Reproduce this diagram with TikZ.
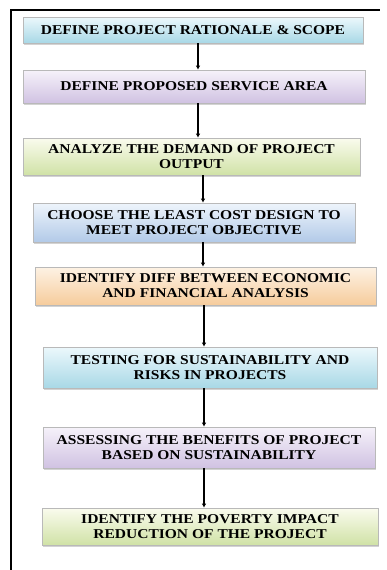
\documentclass[tikz,border=0pt]{standalone}
\usepackage{fontspec}
\setmainfont[FakeStretch=1.15]{Liberation Serif}
\usetikzlibrary{shadows,arrows.meta}
\definecolor{cyantop}{RGB}{236,248,252}
\definecolor{cyanbot}{RGB}{168,216,230}
\definecolor{lilactop}{RGB}{246,242,250}
\definecolor{lilacbot}{RGB}{208,194,226}
\definecolor{greentop}{RGB}{250,251,238}
\definecolor{greenbot}{RGB}{208,226,166}
\definecolor{bluetop}{RGB}{238,244,251}
\definecolor{bluebot}{RGB}{178,202,232}
\definecolor{orangetop}{RGB}{253,242,228}
\definecolor{orangebot}{RGB}{246,204,156}
\begin{document}
\begin{tikzpicture}
[
    x=1pt, y=-1pt,
    stagebox/.style={draw=gray!55, line width=0.6pt, align=center, inner sep=0pt,
        font=\fontsize{13.5}{15}\selectfont\bfseries,
        drop shadow={shadow xshift=1pt, shadow yshift=-2pt, opacity=0.35}},
    cyanbox/.style={stagebox, top color=cyantop, bottom color=cyanbot},
    lilacbox/.style={stagebox, top color=lilactop, bottom color=lilacbot},
    greenbox/.style={stagebox, top color=greentop, bottom color=greenbot},
    bluebox/.style={stagebox, top color=bluetop, bottom color=bluebot},
    orangebox/.style={stagebox, top color=orangetop, bottom color=orangebot},
    flow/.style={line width=1.2pt, -{Latex[length=4pt, width=4.5pt]}},
]
\useasboundingbox (0,0) rectangle (386,570);
\draw[line width=2pt] (11,570) -- (11,10) -- (380,10);
\node (rationale) [cyanbox, minimum width=340pt, minimum height=26pt] at (193,30)
    {DEFINE PROJECT RATIONALE \& SCOPE};
\node (area) [lilacbox, minimum width=342pt, minimum height=33pt] at (194,86.5)
    {DEFINE PROPOSED SERVICE AREA};
\node (demand) [greenbox, minimum width=337pt, minimum height=37pt] at (191.5,156.5)
    {ANALYZE THE DEMAND OF PROJECT\\OUTPUT};
\node (design) [bluebox, minimum width=322pt, minimum height=39pt] at (194,222.5)
    {CHOOSE THE LEAST COST DESIGN TO\\MEET PROJECT OBJECTIVE};
\node (diff) [orangebox, minimum width=341pt, minimum height=38pt] at (205.5,286)
    {IDENTIFY DIFF BETWEEN ECONOMIC\\AND FINANCIAL ANALYSIS};
\node (risks) [cyanbox, minimum width=334pt, minimum height=41pt] at (210,367.5)
    {TESTING FOR SUSTAINABILITY AND\\RISKS IN PROJECTS};
\node (benefits) [lilacbox, minimum width=332pt, minimum height=41pt] at (209,447.5)
    {ASSESSING THE BENEFITS OF PROJECT\\BASED ON SUSTAINABILITY};
\node (poverty) [greenbox, minimum width=336pt, minimum height=37pt] at (210,526.5)
    {IDENTIFY THE POVERTY IMPACT\\REDUCTION OF THE PROJECT};
\draw[flow] (rationale.south -| 198,0) -- (area.north -| 198,0);
\draw[flow] (area.south -| 198,0) -- (demand.north -| 198,0);
\draw[flow] (demand.south -| 203,0) -- (design.north -| 203,0);
\draw[flow] (design.south -| 203,0) -- (diff.north -| 203,0);
\draw[flow] (diff.south -| 204,0) -- (risks.north -| 204,0);
\draw[flow] (risks.south -| 204,0) -- (benefits.north -| 204,0);
\draw[flow] (benefits.south -| 204,0) -- (poverty.north -| 204,0);
\end{tikzpicture}
\end{document}
